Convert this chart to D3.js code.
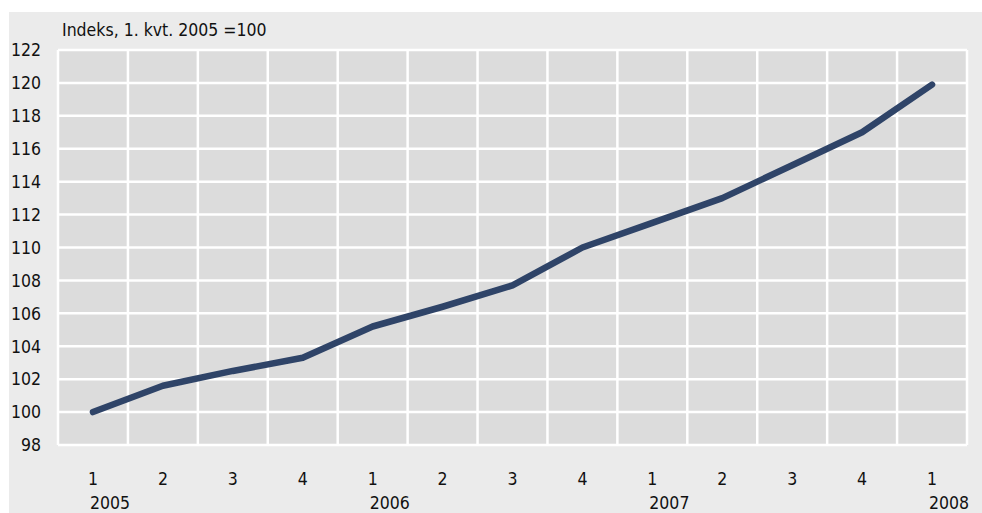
<!DOCTYPE html>
<html>
<head>
<meta charset="utf-8">
<script src="https://cdn.jsdelivr.net/npm/d3@7"></script>
<style>
  body { margin: 0; background: #fff; }
  svg text { font-family: "Liberation Sans Narrow", "DejaVu Sans Condensed", sans-serif; fill: #111; }
</style>
</head>
<body>
<svg id="chart" width="982" height="513"></svg>
<script>
// quarters, year labels and index values (1. kvt. 2005 = 100)
var quarters = ["1", "2", "3", "4", "1", "2", "3", "4", "1", "2", "3", "4", "1"];
var years = ["2005", "", "", "", "2006", "", "", "", "2007", "", "", "", "2008"];
var values = [100, 101.6, 102.5, 103.3, 105.2, 106.4, 107.7, 110.0, 111.5, 113.0, 115.0, 117.0, 119.9];
var yTicks = [98, 100, 102, 104, 106, 108, 110, 112, 114, 116, 118, 120, 122];

(function () {
  var svg = d3.select("#chart"),
      pLeft = 58, pRight = 967, pTop = 50, pBottom = 445;

  svg.append("rect").attr("x", 9).attr("y", 12).attr("width", 973).attr("height", 501).attr("fill", "#ebebeb");
  svg.append("rect").attr("x", pLeft).attr("y", pTop).attr("width", pRight - pLeft).attr("height", pBottom - pTop).attr("fill", "#dcdcdc");

  var idx = d3.range(values.length);
  var x = d3.scaleBand().domain(idx).range([pLeft, pRight]);
  var y = d3.scaleLinear().domain([98, 122]).range([pBottom, pTop]);

  var g = svg.append("g");
  // horizontal grid
  g.selectAll("line.h").data(yTicks).enter().append("line")
    .attr("x1", pLeft).attr("x2", pRight)
    .attr("y1", function (d) { return y(d); }).attr("y2", function (d) { return y(d); })
    .attr("stroke", "#fff").attr("stroke-width", 2.5);
  // vertical grid
  g.selectAll("line.v").data(d3.range(values.length + 1)).enter().append("line")
    .attr("x1", function (d) { return pLeft + d * x.bandwidth(); })
    .attr("x2", function (d) { return pLeft + d * x.bandwidth(); })
    .attr("y1", pTop).attr("y2", pBottom)
    .attr("stroke", "#fff").attr("stroke-width", 2.5);

  // y tick labels
  svg.selectAll("text.yl").data(yTicks).enter().append("text")
    .attr("x", 41).attr("y", function (d) { return y(d); })
    .attr("dy", "0.36em").attr("text-anchor", "end")
    .style("font-size", "17.5px")
    .text(function (d) { return d; });

  // x labels
  svg.selectAll("text.q").data(quarters).enter().append("text")
    .attr("x", function (d, i) { return x(i) + x.bandwidth() / 2; })
    .attr("y", 485).attr("text-anchor", "middle")
    .style("font-size", "17.5px")
    .text(function (d) { return d; });
  svg.selectAll("text.yr").data(years).enter().append("text")
    .attr("x", function (d, i) { return x(i) + x.bandwidth() / 2 - 3; })
    .attr("y", 509)
    .style("font-size", "17.5px")
    .text(function (d) { return d; });

  svg.append("text").attr("x", 62).attr("y", 36).style("font-size", "17.5px")
    .text("Indeks, 1. kvt. 2005 =100");

  var line = d3.line()
    .x(function (d, i) { return x(i) + x.bandwidth() / 2; })
    .y(function (d) { return y(d); });

  svg.append("path").datum(values)
    .attr("d", line)
    .attr("fill", "none")
    .attr("stroke", "#2f4468")
    .attr("stroke-width", 6.5)
    .attr("stroke-linecap", "round")
    .attr("stroke-linejoin", "round");
})();
</script>
</body>
</html>
